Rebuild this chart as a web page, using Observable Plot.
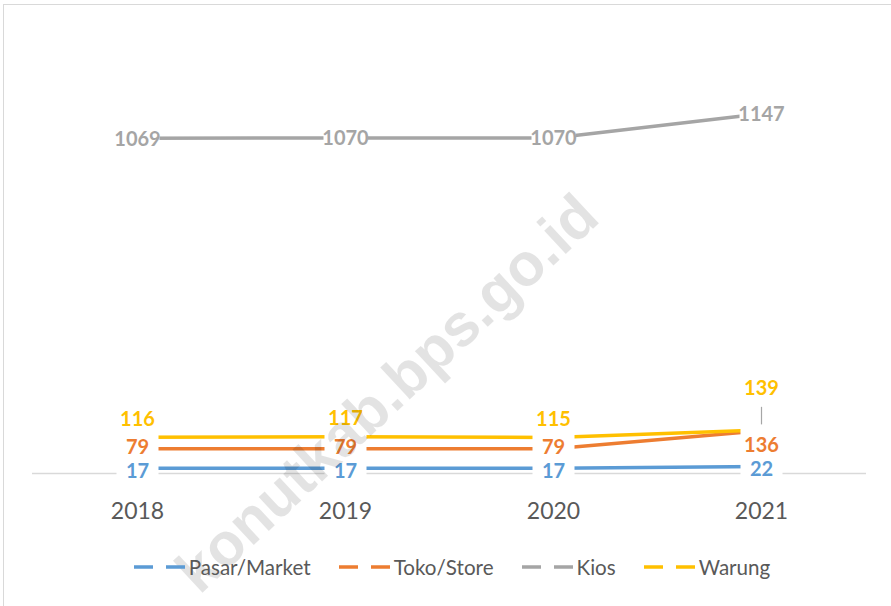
<!DOCTYPE html>
<html>
<head>
<meta charset="utf-8">
<script src="https://cdn.jsdelivr.net/npm/d3@7"></script>
<script src="https://cdn.jsdelivr.net/npm/@observablehq/plot@0.6"></script>
<style>
  html, body { margin: 0; padding: 0; background: #fff; }
  #wrap { position: relative; width: 891px; height: 606px; overflow: hidden; }
  #frame { position: absolute; left: 3px; top: 4px; width: 950px; height: 700px;
           border: 1.3px solid #d9d9d9; pointer-events: none; z-index: 5; }
  #legend { position: absolute; left: 0; top: 555px; width: 891px; padding-left: 13px; box-sizing: border-box;
            display: flex; justify-content: center; gap: 28px; align-items: center;
            font-family: Lato, "Liberation Sans", Arial, sans-serif; font-size: 20.6px; color: #595959; z-index: 3; }
  .item { display: flex; align-items: center; }
  .item svg { margin-right: 4px; }
</style>
</head>
<body>
<div id="wrap">
  <div id="chart"></div>
  <div id="legend"></div>
  <div id="frame"></div>
</div>
<script>
const years = [2018, 2019, 2020, 2021];
const seriesNames = ["Pasar/Market", "Toko/Store", "Kios", "Warung"];
const pasar = [17, 17, 17, 22];
const toko = [79, 79, 79, 136];
const kios = [1069, 1070, 1070, 1147];
const warung = [116, 117, 115, 139];
const colors = ["#5B9BD5", "#ED7D31", "#A5A5A5", "#FFC000"];
const watermark = "konutkab.bps.go.id";

const seriesValues = [pasar, toko, kios, warung];
const rows = [];
seriesNames.forEach((s, si) => years.forEach((y, i) => rows.push({year: y, series: s, value: seriesValues[si][i], idx: i})));

const last = years.length - 1;
const labelFont = {fontFamily: "Lato, 'Open Sans', sans-serif", fontWeight: "bold", fontSize: 20};

const pasarLabels = rows.filter(d => d.series === "Pasar/Market");
const kiosLabels = rows.filter(d => d.series === "Kios");
const tokoLabels = rows.filter(d => d.series === "Toko/Store" && d.idx !== last);
const warungAbove = rows.filter(d => d.series === "Warung" && d.idx !== last);
const warungLast = rows.filter(d => d.series === "Warung" && d.idx === last);
const tokoLast = rows.filter(d => d.series === "Toko/Store" && d.idx === last);

const chart = Plot.plot({
  width: 891, height: 606,
  marginLeft: 32, marginRight: 25, marginTop: 34, marginBottom: 133,
  style: {fontFamily: "Lato, 'Liberation Sans', Arial, sans-serif", fontSize: "23px", color: "#595959", background: "transparent"},
  x: {type: "point", domain: years, padding: 0.5, label: null, tickSize: 0, tickPadding: 29, tickFormat: d => String(d)},
  y: {domain: [0, 1400], axis: null},
  color: {domain: seriesNames, range: colors},
  marks: [
    Plot.ruleY([0], {stroke: "#d9d9d9", strokeWidth: 1.5}),
    Plot.line(rows, {x: "year", y: "value", z: "series", stroke: "series", strokeWidth: 3.5}),
    // white label boxes interrupting the lines
    Plot.ruleX(years, {x: d => d, y1: d => -15, y2: (d, i) => Math.max(pasar[i], toko[i], warung[i]) + 10, stroke: "white", strokeWidth: 42}),
    Plot.ruleX(years, {x: d => d, y1: (d, i) => kios[i] - 25, y2: (d, i) => kios[i] + 25, stroke: "white", strokeWidth: 44}),
    // leader line for the last Warung label
    Plot.ruleX(warungLast, {x: "year", y1: d => d.value + 16, y2: d => d.value + 72, stroke: "#a6a6a6", strokeWidth: 1.2}),
    Plot.text(pasarLabels, {x: "year", y: "value", text: d => String(d.value), fill: "series", dy: 3, ...labelFont}),
    Plot.text(tokoLabels, {x: "year", y: "value", text: d => String(d.value), fill: "series", dy: -1, ...labelFont}),
    Plot.text(kiosLabels, {x: "year", y: "value", text: d => String(d.value), fill: "series", dy: 1, ...labelFont}),
    Plot.text(warungAbove, {x: "year", y: "value", text: d => String(d.value), fill: "series", dy: -18, ...labelFont}),
    Plot.text(warungLast, {x: "year", y: "value", text: d => String(d.value), fill: "series", dy: -41, ...labelFont}),
    Plot.text(tokoLast, {x: "year", y: "value", text: d => String(d.value), fill: "series", dy: 15, ...labelFont}),
    Plot.text([watermark], {text: d => d, frameAnchor: "middle", rotate: -43, dx: -62, dy: 140,
      fontFamily: "'Liberation Sans', Arial, sans-serif", fontWeight: "bold", fontSize: 60, fill: "#000", fillOpacity: 0.11})
  ]
});
document.getElementById("chart").appendChild(chart);

const legend = document.getElementById("legend");
seriesNames.forEach((s, i) => {
  const item = document.createElement("div");
  item.className = "item";
  item.innerHTML = `<svg width="51" height="10"><line x1="0" y1="5" x2="51" y2="5" stroke="${colors[i]}" stroke-width="3.5" stroke-dasharray="19 13"/></svg><span>${s}</span>`;
  legend.appendChild(item);
});
</script>
</body>
</html>
